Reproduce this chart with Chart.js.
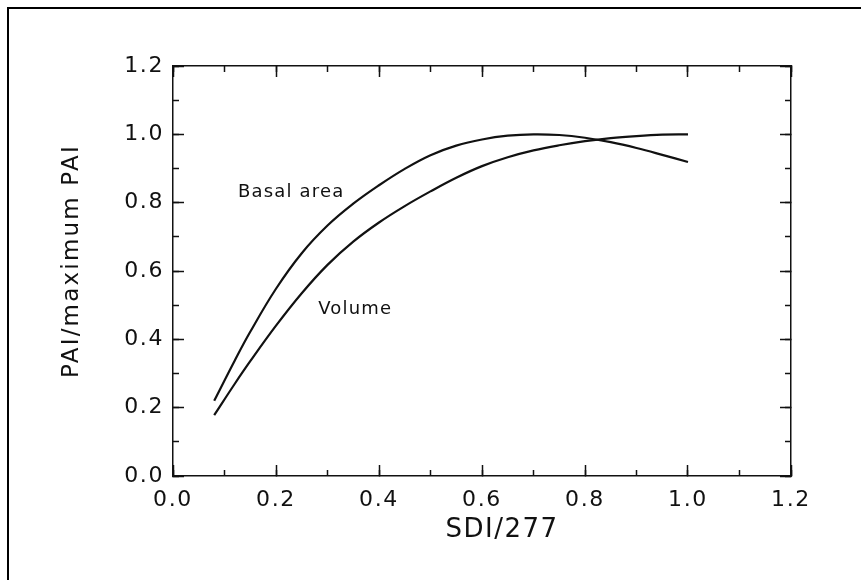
<!DOCTYPE html>
<html>
<head>
<meta charset="utf-8">
<script src="https://cdn.jsdelivr.net/npm/chart.js@4"></script>
<style>
  html, body { margin: 0; padding: 0; background: #fff; }
  #wrap { position: relative; width: 861px; height: 580px; overflow: hidden; }
  #frame { position: absolute; left: 7px; top: 7px; right: -10px; bottom: -10px;
           border-top: 2px solid #000; border-left: 2px solid #000; }
  canvas { position: absolute; left: 0; top: 0; }
</style>
</head>
<body>
<div id="wrap">
  <div id="frame"></div>
  <canvas id="chart" width="861" height="580"></canvas>
</div>
<script>
const sdi = [0.08, 0.12, 0.15, 0.2, 0.25, 0.3, 0.35, 0.4, 0.45, 0.5,
             0.55, 0.6, 0.65, 0.7, 0.75, 0.8, 0.85, 0.9, 0.95, 1.0];
const basalArea = [0.22, 0.338, 0.422, 0.548, 0.652, 0.733, 0.797, 0.851, 0.899, 0.939,
                   0.967, 0.985, 0.996, 1.0, 0.998, 0.99, 0.977, 0.96, 0.94, 0.919];
const volume = [0.178, 0.27, 0.336, 0.44, 0.535, 0.618, 0.686, 0.742, 0.79, 0.833,
                0.873, 0.907, 0.933, 0.953, 0.968, 0.98, 0.989, 0.995, 0.999, 1.0];

const curveNames = ['Basal area', 'Volume'];
const curveLabelX = [0.126, 0.282];
const curveLabelY = [0.831, 0.489];

const xTitle = 'SDI/277';
const yTitle = 'PAI/maximum PAI';

const INK = '#111';
const FONT = 'DejaVu Sans';

const toPoints = (xs, ys) => xs.map((x, i) => ({ x: x, y: ys[i] }));

// inward tick marks: one axis per side for majors, one for minors
function tickAxis(position, step, len, weight, size, withLabels) {
  const horiz = position === 'top' || position === 'bottom';
  return {
    type: 'linear',
    position: position,
    min: 0,
    max: 1.2,
    weight: weight,
    ticks: {
      display: withLabels,
      stepSize: step,
      maxTicksLimit: 20,
      autoSkip: false,
      maxRotation: 0,
      color: INK,
      font: { family: FONT, size: 22 },
      padding: horiz ? 22 : 20,
      callback: v => v.toFixed(1),
    },
    grid: {
      drawOnChartArea: false,
      drawTicks: true,
      tickLength: -len,
      tickWidth: 1.5,
      tickColor: INK,
    },
    border: { display: withLabels || len > 8, color: INK, width: 1.5 },
    afterFit: s => { if (horiz) s.height = size; else s.width = size; },
  };
}

const figureText = {
  id: 'figureText',
  beforeDraw(chart) {
    chart.ctx.letterSpacing = '1.6px';
  },
  afterDraw(chart) {
    const { ctx, chartArea: a, scales } = chart;
    ctx.save();
    ctx.fillStyle = INK;
    ctx.textBaseline = 'middle';
    ctx.textAlign = 'left';
    ctx.font = '18px "' + FONT + '"';
    ctx.letterSpacing = '1.2px';
    curveNames.forEach((t, i) => {
      ctx.fillText(t, scales.x.getPixelForValue(curveLabelX[i]), scales.y.getPixelForValue(curveLabelY[i]));
    });

    ctx.textAlign = 'center';
    ctx.font = '26px "' + FONT + '"';
    ctx.letterSpacing = '1.5px';
    ctx.fillText(xTitle, (a.left + a.right) / 2 + 20, a.bottom + 54);

    ctx.translate(72, (a.top + a.bottom) / 2 - 10);
    ctx.rotate(-Math.PI / 2);
    ctx.font = '23px "' + FONT + '"';
    ctx.letterSpacing = '2.2px';
    ctx.fillText(yTitle, 0, 0);
    ctx.restore();
  }
};

new Chart(document.getElementById('chart').getContext('2d'), {
  type: 'line',
  data: {
    datasets: [
      { label: 'Basal area', data: toPoints(sdi, basalArea) },
      { label: 'Volume', data: toPoints(sdi, volume) },
    ],
  },
  options: {
    responsive: false,
    animation: false,
    layout: { padding: { left: 0, right: 70, top: 66, bottom: 0 } },
    elements: {
      line: { borderColor: INK, borderWidth: 2.2, tension: 0.4, fill: false },
      point: { radius: 0 },
    },
    scales: {
      x: tickAxis('bottom', 0.2, 11, 1, 104, true),
      xMinor: tickAxis('bottom', 0.1, 6, 0, 0, false),
      y: tickAxis('left', 0.2, 11, 1, 173, true),
      yMinor: tickAxis('left', 0.1, 6, 0, 0, false),
      xTop: tickAxis('top', 0.2, 11, 1, 0, false),
      xTopMinor: tickAxis('top', 0.1, 6, 0, 0, false),
      yRight: tickAxis('right', 0.2, 11, 1, 0, false),
      yRightMinor: tickAxis('right', 0.1, 6, 0, 0, false),
    },
    plugins: {
      legend: { display: false },
      tooltip: { enabled: false },
    },
  },
  plugins: [figureText],
});
</script>
</body>
</html>
